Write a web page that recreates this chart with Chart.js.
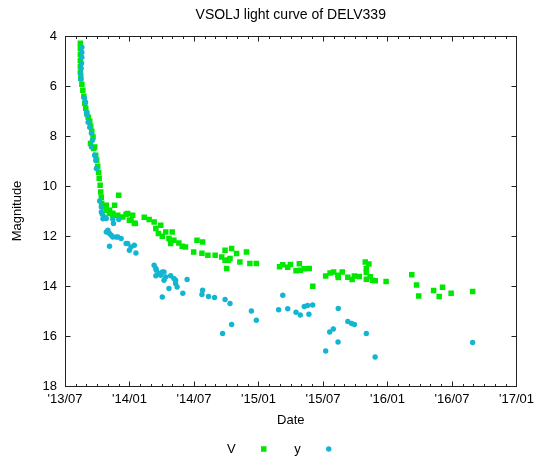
<!DOCTYPE html>
<html>
<head>
<meta charset="utf-8">
<script src="https://cdn.jsdelivr.net/npm/chart.js@4.4.0/dist/chart.umd.min.js"></script>
<style>
  html, body { margin: 0; padding: 0; background: #fff; }
  #wrap { width: 540px; height: 456px; }
</style>
</head>
<body>
<div id="wrap"><canvas id="lightCurve" width="540" height="456"></canvas></div>
<script>
// x values are months after 2013 Jul 1, y values are magnitudes
const vMonth = [
  1.43, 1.43, 1.43, 1.43, 1.43, 1.43, 1.47, 1.57, 1.66, 1.75,
  1.84, 1.93, 2.03, 2.16, 2.30, 2.39, 2.49, 2.61, 2.37, 2.67,
  2.76, 2.86, 2.95, 3.04, 3.13, 3.18, 3.27, 3.32, 3.38, 3.41,
  3.50, 3.68, 3.84, 4.14, 4.45, 5.00, 3.84, 4.61, 4.14, 4.45,
  4.91, 5.37, 5.83, 6.29, 5.99, 6.54, 5.68, 6.14, 6.45, 7.37,
  7.83, 8.29, 8.45, 8.91, 8.69, 9.05, 9.37, 9.67, 9.97, 10.13,
  9.83, 10.59, 10.90, 11.21, 12.28, 12.80, 11.97, 12.74, 13.29, 13.97,
  14.58, 14.89, 15.50, 14.89, 15.04, 15.20, 15.35, 15.96, 16.27, 16.88,
  17.20, 17.80, 19.96, 20.26, 20.72, 20.97, 21.49, 21.80, 21.89, 22.26,
  22.72, 23.05, 24.25, 24.66, 24.99, 25.39, 25.42, 25.79, 26.31, 26.71,
  26.92, 27.38, 27.93, 28.27, 28.03, 28.03, 28.39, 28.03, 28.60, 28.86,
  29.87, 32.26, 32.70, 32.91, 34.29, 34.81, 35.12, 35.92, 37.92
];
const vMag = [
  4.29, 4.49, 4.73, 4.97, 5.21, 5.45, 5.69, 5.93, 6.17, 6.41,
  6.69, 6.89, 7.09, 7.25, 7.41, 7.61, 7.81, 8.04, 8.30, 8.50,
  8.44, 8.77, 8.97, 9.21, 9.45, 9.69, 9.97, 10.24, 10.45, 10.69,
  10.81, 10.84, 10.97, 11.10, 11.17, 10.37, 10.77, 10.77, 10.97, 11.09,
  11.17, 11.24, 11.10, 11.17, 11.37, 11.50, 11.13, 11.37, 11.49, 11.25,
  11.34, 11.44, 11.70, 11.57, 11.90, 12.01, 11.84, 12.10, 11.84, 12.17,
  12.30, 12.28, 12.41, 12.44, 12.17, 12.24, 12.64, 12.69, 12.77, 12.77,
  12.84, 12.57, 12.50, 12.97, 13.30, 12.97, 12.90, 12.70, 13.04, 12.64,
  13.10, 13.10, 13.23, 13.15, 13.25, 13.14, 13.39, 13.11, 13.37, 13.31,
  13.30, 14.01, 13.60, 13.48, 13.44, 13.57, 13.66, 13.44, 13.65, 13.74,
  13.60, 13.62, 13.04, 13.12, 13.30, 13.45, 13.63, 13.73, 13.77, 13.79,
  13.82, 13.55, 13.96, 14.40, 14.18, 14.42, 14.05, 14.29, 14.22
];
const yMonth = [
  1.57, 1.57, 1.57, 1.54, 1.50, 1.47, 1.47, 1.81, 1.91, 2.00,
  2.05, 2.15, 2.30, 2.46, 2.55, 2.46, 2.76, 2.86, 2.92, 3.22,
  3.38, 3.38, 3.47, 3.53, 3.68, 3.84, 4.45, 4.51, 5.00, 3.84,
  3.99, 4.14, 4.30, 4.45, 4.76, 4.91, 5.22, 4.14, 5.68, 5.83,
  6.14, 6.45, 5.99, 6.60, 8.29, 8.45, 8.50, 8.75, 8.45, 8.91,
  9.05, 9.21, 9.37, 9.83, 9.21, 10.13, 10.29, 10.29, 10.43, 11.36,
  9.67, 10.96, 9.05, 12.80, 12.74, 13.35, 13.91, 14.89, 15.35, 14.66,
  15.50, 17.34, 17.80, 19.87, 20.26, 20.72, 21.49, 21.89, 22.26, 22.57,
  22.69, 23.04, 25.42, 26.31, 26.66, 26.92, 24.96, 24.62, 25.40, 24.25,
  28.03, 28.85, 37.92
];
const yMag = [
  4.45, 4.65, 4.85, 5.09, 5.29, 5.53, 5.73, 6.49, 6.65, 7.05,
  7.17, 7.45, 7.65, 7.89, 8.17, 8.44, 8.77, 8.97, 9.30, 10.60,
  10.84, 11.04, 11.13, 11.31, 11.24, 11.30, 11.33, 11.50, 11.34, 11.84,
  11.77, 11.90, 11.97, 12.04, 12.04, 12.04, 12.10, 12.41, 12.30, 12.30,
  12.44, 12.37, 12.57, 12.68, 13.17, 13.30, 13.37, 13.50, 13.59, 13.57,
  13.44, 13.44, 13.64, 13.59, 13.77, 13.70, 13.77, 13.90, 14.04, 13.74,
  14.10, 14.29, 14.44, 14.17, 14.34, 14.42, 14.46, 14.54, 14.70, 15.90,
  15.54, 15.00, 15.37, 14.95, 14.37, 14.91, 15.05, 15.16, 14.82, 14.78,
  15.13, 14.76, 14.90, 15.42, 15.50, 15.54, 15.72, 15.84, 16.24, 16.60,
  15.90, 16.84, 16.26
];
const tickLabels = ["'13/07", "'14/01", "'14/07", "'15/01", "'15/07", "'16/01", "'16/07", "'17/01"];
const seriesNames = ['V', 'y'];
const seriesColors = ['#00e800', '#12b6d2'];

const toPoints = (xs, ys) => xs.map((x, i) => ({ x: x, y: ys[i] }));

const fontFamily = "'Liberation Sans', Arial, sans-serif";
Chart.defaults.font.family = fontFamily;
Chart.defaults.font.size = 13;
Chart.defaults.color = '#000';

// gnuplot-like frame with inward ticks, and the key under the plot
const framePlugin = {
  id: 'frame',
  afterDraw(chart) {
    const ctx = chart.ctx;
    const area = chart.chartArea;
    const xs = chart.scales.x;
    const ys = chart.scales.y;
    const l = Math.round(area.left) + 0.5;
    const r = Math.round(area.right) + 0.5;
    const t = Math.round(area.top) + 0.5;
    const b = Math.round(area.bottom) + 0.5;

    ctx.save();
    ctx.strokeStyle = '#222';
    ctx.lineWidth = 1;
    ctx.beginPath();
    for (let m = xs.min; m <= xs.max; m++) {
      const px = Math.round(xs.getPixelForValue(m)) + 0.5;
      const len = m % 6 === 0 ? 5 : 2.5;
      ctx.moveTo(px, b); ctx.lineTo(px, b - len);
      ctx.moveTo(px, t); ctx.lineTo(px, t + len);
    }
    for (let mag = ys.min; mag <= ys.max; mag += 2) {
      const py = Math.round(ys.getPixelForValue(mag)) + 0.5;
      ctx.moveTo(l, py); ctx.lineTo(l + 5, py);
      ctx.moveTo(r, py); ctx.lineTo(r - 5, py);
    }
    ctx.stroke();
    ctx.strokeRect(l, t, r - l, b - t);

    // key: label then marker
    const cx = (area.left + area.right) / 2;
    const ky = 449;
    ctx.font = '13px ' + fontFamily;
    ctx.fillStyle = '#000';
    ctx.textAlign = 'right';
    ctx.textBaseline = 'middle';
    chart.data.datasets.forEach((ds, i) => {
      const tx = cx - 55 + 65 * i;
      ctx.fillStyle = '#000';
      ctx.fillText(ds.label, tx, ky);
      ctx.fillStyle = ds.backgroundColor;
      Chart.helpers.drawPoint(ctx, {
        pointStyle: ds.pointStyle,
        radius: ds.pointRadius,
        rotation: 0,
        borderWidth: 0
      }, tx + 28, ky);
    });
    ctx.restore();
  }
};

new Chart(document.getElementById('lightCurve'), {
  type: 'scatter',
  data: {
    datasets: [
      {
        label: seriesNames[0],
        data: toPoints(vMonth, vMag),
        backgroundColor: seriesColors[0],
        borderWidth: 0,
        pointStyle: 'rect',
        pointRadius: 3.9,
        order: 2
      },
      {
        label: seriesNames[1],
        data: toPoints(yMonth, yMag),
        backgroundColor: seriesColors[1],
        borderWidth: 0,
        pointStyle: 'circle',
        pointRadius: 2.7,
        order: 1
      }
    ]
  },
  options: {
    responsive: false,
    animation: false,
    events: [],
    layout: { padding: { top: 0, right: 19, bottom: 0, left: 0 } },
    plugins: {
      legend: { display: false },
      tooltip: { enabled: false },
      title: {
        display: true,
        text: 'VSOLJ light curve of DELV339',
        fullSize: false,
        color: '#000',
        font: { size: 14, weight: 'normal' },
        padding: { top: 6.6, bottom: 12.6 }
      }
    },
    scales: {
      x: {
        type: 'linear',
        min: 0,
        max: 42,
        grid: { display: false, drawTicks: false },
        border: { display: false },
        ticks: {
          stepSize: 6,
          autoSkip: false,
          maxRotation: 0,
          padding: 6,
          color: '#000',
          callback: (v) => tickLabels[Math.round(v / 6)]
        },
        title: {
          display: true,
          text: 'Date',
          color: '#000',
          padding: { top: 0, bottom: 28 }
        },
        afterFit(scale) { scale.height = 70; }
      },
      y: {
        reverse: true,
        min: 4,
        max: 18,
        grid: { display: false, drawTicks: false },
        border: { display: false },
        ticks: { stepSize: 2, padding: 8, color: '#000' },
        title: {
          display: true,
          text: 'Magnitude',
          color: '#000',
          padding: { top: 10, bottom: 0 }
        },
        afterFit(scale) { scale.width = 65; }
      }
    }
  },
  plugins: [framePlugin]
});
</script>
</body>
</html>
